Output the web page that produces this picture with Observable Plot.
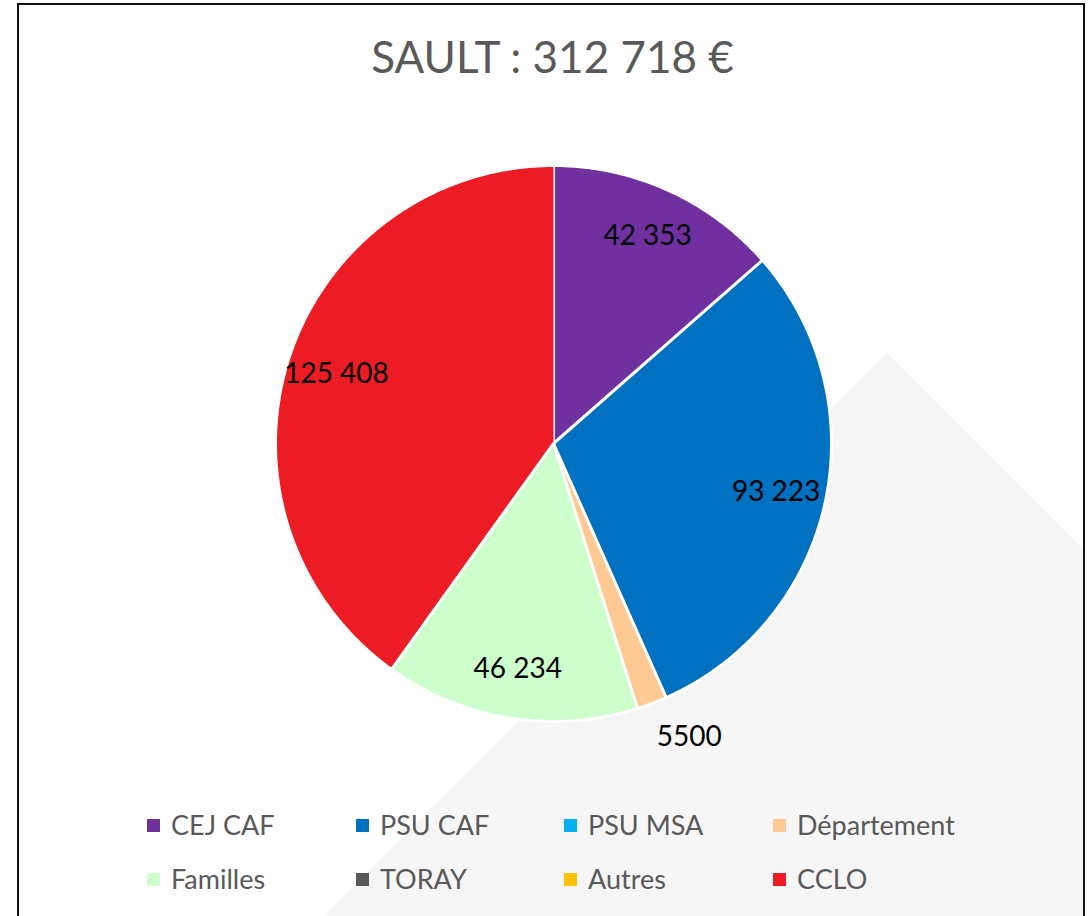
<!DOCTYPE html>
<html><head><meta charset="utf-8">
<script src="https://cdn.jsdelivr.net/npm/d3@7"></script>
<script src="https://cdn.jsdelivr.net/npm/@observablehq/plot@0.6"></script>
<style>
body{margin:0;background:#fff;}
#wrap{position:relative;width:1089px;height:916px;overflow:hidden;background:#fff;font-family:Lato,"Open Sans",sans-serif;}
#frame{position:absolute;left:17px;top:3px;width:1068px;height:1000px;border:2px solid #111;box-sizing:border-box;overflow:hidden;}
#diamond{position:absolute;width:1000px;height:1000px;background:#f6f6f6;transform:rotate(45deg);}
#title{position:absolute;left:0;width:1105px;top:28px;text-align:center;font-size:44px;line-height:56px;color:#595959;}
#chart{position:absolute;left:0;top:140px;}
#legend{position:absolute;left:0;top:805px;width:1089px;}
.item{position:absolute;font-size:27px;color:#595959;white-space:nowrap;line-height:30px;}
.sw{position:absolute;width:13px;height:13px;}
</style>
</head><body>
<div id="wrap">
  <div id="frame"><div id="diamond"></div></div>
  <div id="title">SAULT : 312 718 €</div>
  <div id="chart"></div>
  <div id="legend"></div>
</div>
<script>
const categories = ["CEJ CAF", "PSU CAF", "PSU MSA", "Département", "Familles", "TORAY", "Autres", "CCLO"];
const values = [42353, 93223, 0, 5500, 46234, 0, 0, 125408];
const valueLabels = ["42 353", "93 223", "0", "5500", "46 234", "0", "0", "125 408"];
const colors = ["#7030A0", "#0070C0", "#00B0F0", "#FFC993", "#CCFFCC", "#595959", "#FFC000", "#ED1C24"];

// diamond placement (background decoration)
const dia = document.getElementById("diamond");
dia.style.left = (887 - 500 - 19) + "px";
dia.style.top = (353 + 707 - 500 - 5) + "px";

const rows = categories.map((name, i) => ({name, value: values[i], label: valueLabels[i]}));
const arcs = d3.pie().sort(null).value(d => d.value).startAngle(0).endAngle(2 * Math.PI)(rows);

const points = [];
const labels = [];
for (const a of arcs) {
  if (a.data.value <= 0) continue;
  const n = Math.max(2, Math.ceil((a.endAngle - a.startAngle) / (Math.PI / 360)));
  points.push({name: a.data.name, x: 0, y: 0});
  for (let k = 0; k <= n; k++) {
    const t = a.startAngle + (a.endAngle - a.startAngle) * k / n;
    points.push({name: a.data.name, x: Math.sin(t), y: Math.cos(t)});
  }
  const mid = (a.startAngle + a.endAngle) / 2;
  const share = a.data.value / d3.sum(values);
  const outside = share < 0.03;
  const r = outside ? 1.13 : 0.82;
  labels.push({x: r * Math.sin(mid), y: r * Math.cos(mid), text: a.data.label, outside});
}

const cx = 553, cy = 303, R = 278;
const chart = Plot.plot({
  width: 1089,
  height: 620,
  margin: 0,
  style: {fontFamily: "Lato, 'Open Sans', sans-serif", background: "transparent", overflow: "visible"},
  x: {domain: [-1, 1], range: [cx - R, cx + R], axis: null},
  y: {domain: [-1, 1], range: [cy + R, cy - R], axis: null},
  color: {domain: categories, range: colors},
  marks: [
    Plot.line(points, {x: "x", y: "y", z: "name", fill: "name", stroke: "white", strokeWidth: 3, strokeLinejoin: "round"}),
    Plot.text(labels.filter(d => !d.outside), {x: "x", y: "y", text: "text", fill: "black", fontSize: 28, textAnchor: "middle"}),
    Plot.text(labels.filter(d => d.outside), {x: "x", y: "y", text: "text", fill: "black", fontSize: 28, textAnchor: "start", dx: -8})
  ]
});
document.getElementById("chart").appendChild(chart);

// legend
const leg = document.getElementById("legend");
const colX = [147, 356, 564, 773];
const rowY = [0, 54];
categories.forEach((c, i) => {
  const col = i % 4, row = Math.floor(i / 4);
  const sw = document.createElement("div");
  sw.className = "sw";
  sw.style.background = colors[i];
  sw.style.left = colX[col] + "px";
  sw.style.top = (14 + rowY[row]) + "px";
  leg.appendChild(sw);
  const it = document.createElement("div");
  it.className = "item";
  it.textContent = c;
  it.style.left = (colX[col] + 24) + "px";
  it.style.top = (5 + rowY[row]) + "px";
  leg.appendChild(it);
});
</script>
</body></html>
